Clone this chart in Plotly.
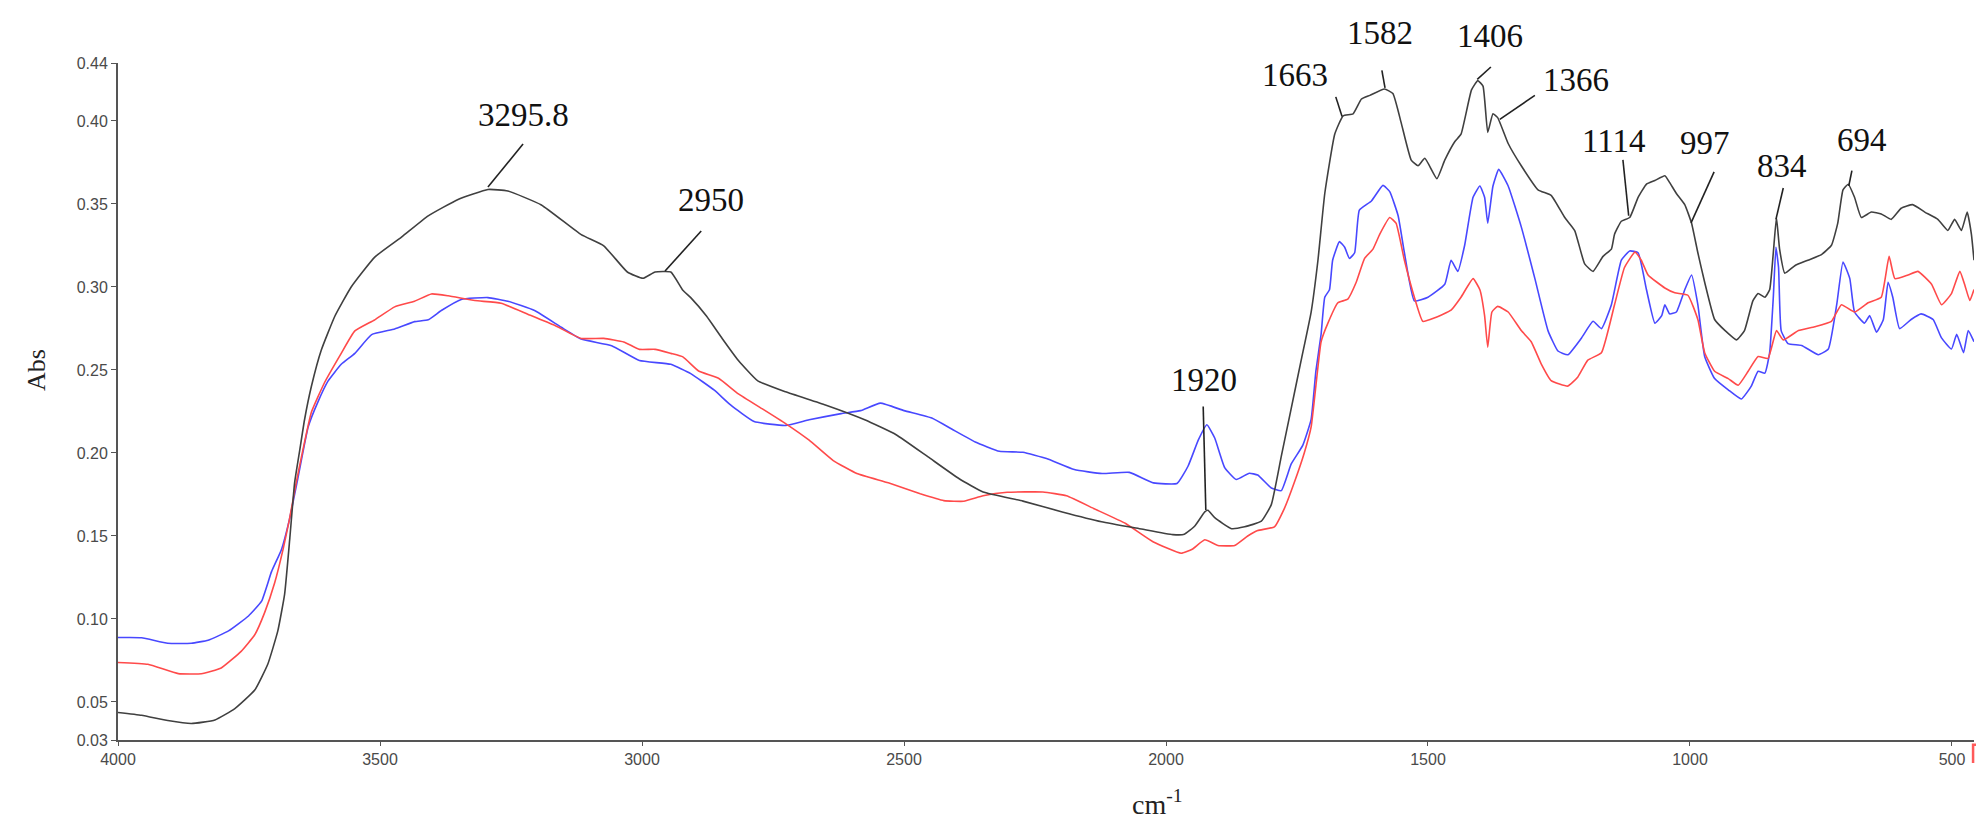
import plotly.graph_objects as go

# ---------------- data (wavenumber cm-1, absorbance) ----------------
black_wn = [4000, 3955, 3905, 3860, 3815, 3777, 3739, 3714, 3695, 3682, 3672, 3663, 3653, 3644,
            3631, 3612, 3586, 3555, 3510, 3459, 3408, 3351, 3294, 3256, 3192, 3116, 3073, 3028,
            2998, 2975, 2945, 2922, 2907, 2877, 2847, 2816, 2779, 2726, 2650, 2575, 2515, 2454,
            2394, 2349, 2273, 2198, 2123, 2047, 1987, 1965, 1945, 1926, 1920, 1907, 1875, 1850,
            1818, 1799, 1780, 1761, 1742, 1723, 1710, 1697, 1678, 1662, 1643, 1627, 1611, 1583,
            1567, 1551, 1532, 1519, 1506, 1483, 1468, 1449, 1437, 1417, 1405, 1395, 1386, 1376,
            1367, 1347, 1322, 1290, 1265, 1239, 1220, 1201, 1185, 1166, 1150, 1144, 1131, 1115,
            1099, 1083, 1067, 1048, 1039, 1026, 1010, 997, 985, 972, 953, 933, 911, 896, 880,
            870, 857, 848, 841, 835, 829, 819, 800, 775, 749, 730, 718, 708, 698, 686, 673, 654,
            635, 616, 597, 575, 552, 527, 508, 495, 482, 471, 463, 458]
black_abs = [0.0437, 0.042, 0.0388, 0.037, 0.0392, 0.046, 0.0572, 0.0729, 0.0928, 0.115, 0.149, 0.182,
             0.202, 0.220, 0.240, 0.262, 0.2825, 0.300, 0.318, 0.330, 0.3428, 0.3527, 0.3587, 0.3578,
             0.3494, 0.3315, 0.3248, 0.309, 0.3052, 0.309, 0.309, 0.298, 0.2936, 0.2825, 0.269,
             0.2557, 0.2434, 0.2368, 0.2289, 0.220, 0.211, 0.1976, 0.1843, 0.1765, 0.171, 0.1645,
             0.1586, 0.1542, 0.1508, 0.151, 0.156, 0.1645, 0.1655, 0.161, 0.1544, 0.1555, 0.1589,
             0.1689, 0.1979, 0.2269, 0.2559, 0.2849, 0.3161, 0.3563, 0.392, 0.4031, 0.4043, 0.4132,
             0.4154, 0.4192, 0.4165, 0.3987, 0.3764, 0.373, 0.3775, 0.3652, 0.3764, 0.3875, 0.392,
             0.4187, 0.4243, 0.421, 0.3931, 0.4043, 0.402, 0.3864, 0.373, 0.3585, 0.3552, 0.3418,
             0.334, 0.3139, 0.3094, 0.3184, 0.3228, 0.3318, 0.3396, 0.3418, 0.354, 0.3619, 0.3641,
             0.367, 0.363, 0.3563, 0.3496, 0.3384, 0.3206, 0.3028, 0.2804, 0.2737, 0.2681, 0.2737,
             0.2916, 0.296, 0.2938, 0.2983, 0.3206, 0.3418, 0.3228, 0.3083, 0.3128, 0.3161, 0.3195,
             0.3251, 0.3384, 0.3585, 0.3619, 0.354, 0.3418, 0.3451, 0.344, 0.3407, 0.3474, 0.3496,
             0.3451, 0.3407, 0.334, 0.3407, 0.334, 0.3451, 0.3318, 0.3161]

red_wn = [4000, 3943, 3885, 3841, 3803, 3765, 3739, 3720, 3701, 3685, 3673, 3660, 3647, 3631, 3606,
          3574, 3548, 3510, 3472, 3434, 3402, 3370, 3319, 3269, 3218, 3167, 3116, 3073, 3035, 3005,
          2975, 2945, 2922, 2892, 2854, 2816, 2771, 2726, 2681, 2635, 2590, 2530, 2469, 2424, 2386,
          2349, 2303, 2235, 2190, 2137, 2077, 2024, 1971, 1950, 1926, 1901, 1869, 1844, 1825, 1793,
          1774, 1755, 1736, 1723, 1714, 1704, 1691, 1672, 1653, 1637, 1621, 1605, 1592, 1573, 1561,
          1545, 1526, 1510, 1487, 1456, 1437, 1414, 1401, 1392, 1386, 1378, 1367, 1347, 1322, 1303,
          1284, 1265, 1233, 1214, 1195, 1169, 1144, 1125, 1105, 1093, 1080, 1048, 1029, 1004, 985,
          972, 953, 927, 908, 889, 870, 851, 835, 822, 793, 762, 730, 711, 686, 660, 635, 620, 609,
          584, 565, 539, 520, 501, 485, 475, 466, 458]
red_abs = [0.0738, 0.0727, 0.0671, 0.067, 0.0705, 0.0805, 0.0905, 0.104, 0.1218, 0.1419, 0.1597, 0.182,
           0.202, 0.2245, 0.2423, 0.260, 0.2735, 0.2802, 0.288, 0.2914, 0.2958, 0.2947, 0.2918, 0.2902,
           0.2836, 0.2769, 0.269, 0.269, 0.2669, 0.2624, 0.2624, 0.260, 0.2579, 0.2494, 0.245, 0.2356,
           0.2267, 0.2177, 0.2077, 0.1954, 0.1876, 0.182, 0.1754, 0.1713, 0.1709, 0.1742, 0.1763,
           0.1765, 0.1742, 0.1664, 0.1575, 0.1464, 0.1396, 0.1420, 0.1477, 0.1443, 0.1443, 0.150,
           0.1533, 0.1555, 0.1666, 0.1823, 0.2001, 0.2157, 0.2403, 0.267, 0.2782, 0.2905, 0.2927,
           0.3028, 0.3172, 0.3228, 0.3318, 0.3418, 0.3384, 0.3161, 0.2938, 0.2793, 0.2815, 0.286,
           0.2938, 0.305, 0.2983, 0.2827, 0.2637, 0.2849, 0.2883, 0.2849, 0.2737, 0.267, 0.2537,
           0.2436, 0.2403, 0.2458, 0.2559, 0.2604, 0.2893, 0.3117, 0.321, 0.3161, 0.3072, 0.2994,
           0.2965, 0.295, 0.2804, 0.2604, 0.2492, 0.2448, 0.2408, 0.2492, 0.2581, 0.257, 0.2737,
           0.2681, 0.2737, 0.276, 0.2793, 0.2893, 0.2849, 0.2905, 0.2938, 0.3184, 0.305, 0.3072,
           0.3094, 0.3016, 0.2893, 0.296, 0.3094, 0.3006, 0.2918, 0.2985]

blue_wn = [4000, 3955, 3905, 3860, 3828, 3789, 3751, 3726, 3707, 3688, 3673, 3657, 3637, 3618, 3599,
           3574, 3548, 3516, 3472, 3434, 3408, 3383, 3345, 3294, 3256, 3205, 3154, 3116, 3058, 3005,
           2945, 2907, 2862, 2831, 2786, 2726, 2681, 2620, 2583, 2545, 2500, 2447, 2409, 2364, 2318,
           2273, 2228, 2175, 2122, 2070, 2024, 1979, 1958, 1938, 1922, 1907, 1888, 1866, 1841, 1825,
           1799, 1780, 1761, 1739, 1723, 1714, 1704, 1697, 1688, 1682, 1669, 1659, 1650, 1640, 1631,
           1608, 1586, 1573, 1557, 1545, 1526, 1500, 1468, 1456, 1443, 1430, 1414, 1401, 1392, 1386,
           1376, 1365, 1347, 1322, 1296, 1271, 1252, 1233, 1207, 1185, 1169, 1150, 1131, 1115, 1099,
           1083, 1067, 1054, 1048, 1039, 1026, 1010, 997, 985, 972, 953, 927, 902, 883, 870, 857, 848,
           841, 836, 831, 826, 813, 787, 755, 736, 720, 708, 695, 686, 667, 657, 644, 631, 622, 613,
           600, 578, 559, 536, 520, 501, 491, 478, 469, 458]
blue_abs = [0.0888, 0.0887, 0.0854, 0.0854, 0.0872, 0.0928, 0.1018, 0.1107, 0.1285, 0.1419, 0.1597,
            0.1843, 0.2157, 0.2311, 0.2434, 0.2534, 0.260, 0.2713, 0.2747, 0.2791, 0.2802, 0.2858,
            0.2925, 0.2936, 0.2914, 0.2858, 0.2757, 0.2686, 0.2646, 0.2557, 0.2534, 0.2478, 0.2378,
            0.2289, 0.2189, 0.2166, 0.220, 0.2237, 0.2255, 0.230, 0.2255, 0.221, 0.2144, 0.2066, 0.201,
            0.2004, 0.1966, 0.190, 0.1876, 0.1883, 0.182, 0.1816, 0.192, 0.208, 0.217, 0.209, 0.1912,
            0.184, 0.1878, 0.1867, 0.1789, 0.1773, 0.1934, 0.2046, 0.2202, 0.2492, 0.2715, 0.2938,
            0.2983, 0.3161, 0.3273, 0.3239, 0.3172, 0.3206, 0.3463, 0.3518, 0.3612, 0.3574, 0.3429,
            0.3206, 0.2916, 0.2938, 0.3016, 0.3161, 0.3094, 0.3251, 0.354, 0.3608, 0.354, 0.3384,
            0.3608, 0.3708, 0.3608, 0.3362, 0.305, 0.2737, 0.2614, 0.2592, 0.2693, 0.2793, 0.2749,
            0.2893, 0.3161, 0.3217, 0.3206, 0.2983, 0.2782, 0.2827, 0.2893, 0.2838, 0.2849, 0.2983,
            0.3072, 0.2893, 0.2581, 0.2448, 0.238, 0.2325, 0.2403, 0.2492, 0.2481, 0.2604, 0.2938,
            0.3239, 0.3117, 0.2737, 0.2659, 0.2648, 0.2592, 0.2626, 0.2893, 0.315, 0.305, 0.2849,
            0.2782, 0.2827, 0.2727, 0.2804, 0.3028, 0.2938, 0.2749, 0.2804, 0.2838, 0.2804, 0.2693,
            0.2626, 0.2715, 0.2604, 0.2737, 0.267]

# peak labels: text, text position (wn, abs), leader start (wn, abs), leader end (wn, abs)
peak_labels = ["3295.8", "2950", "1920", "1663", "1582", "1406", "1366", "1114", "997", "834", "694"]
label_pos = [(3227, 0.4036), (2868, 0.3524), (1927, 0.244), (1754, 0.4277), (1592, 0.453),
             (1382, 0.4512), (1218, 0.4247), (1145, 0.388), (971, 0.3867), (824, 0.3729), (672, 0.3886)]
leader_from = [(3227, 0.3861), (2887, 0.3337), (1929, 0.228), (1676, 0.4145), (1588, 0.4304),
               (1380, 0.4325), (1296, 0.4154), (1128, 0.3765), (954, 0.3693), (822, 0.3596), (691, 0.3701)]
leader_to = [(3294, 0.3602), (2956, 0.3096), (1924, 0.1657), (1664, 0.4027), (1582, 0.4199),
             (1406, 0.425), (1363, 0.4009), (1117, 0.3429), (998, 0.3386), (836, 0.3407), (697, 0.3608)]

x_ticks = [4000, 3500, 3000, 2500, 2000, 1500, 1000, 500]
y_min, y_max = 0.0271, 0.4349
y_ticks = [y_min, 0.05, 0.10, 0.15, 0.20, 0.25, 0.30, 0.35, 0.40, y_max]
y_tick_text = ["0.03", "0.05", "0.10", "0.15", "0.20", "0.25", "0.30", "0.35", "0.40", "0.44"]


def to_paper_y(v):
    return (v - y_min) / (y_max - y_min)


# ---------------- figure ----------------
fig = go.Figure()
line_w = 1.6
common = dict(mode="lines")
fig.add_trace(go.Scatter(x=blue_wn, y=blue_abs, line=dict(color="#4848ff", width=line_w, shape="spline", smoothing=0.4), **common))
fig.add_trace(go.Scatter(x=red_wn, y=red_abs, line=dict(color="#ff4a4a", width=line_w, shape="spline", smoothing=0.4), **common))
fig.add_trace(go.Scatter(x=black_wn, y=black_abs, line=dict(color="#404040", width=line_w, shape="spline", smoothing=0.4), **common))

serif = "Liberation Serif, Times New Roman, serif"
for lab, (tx, ty), (fx0, fy0), (fx1, fy1) in zip(peak_labels, label_pos, leader_from, leader_to):
    fig.add_shape(type="line", xref="x", yref="y", x0=fx0, y0=fy0, x1=fx1, y1=fy1,
                  line=dict(color="#222222", width=1.6))
    fig.add_annotation(x=tx, y=to_paper_y(ty), xref="x", yref="paper", text=lab, showarrow=False,
                       font=dict(family=serif, size=33, color="#111111"),
                       xanchor="center", yanchor="middle")

# small red bracket mark at the right end under the axis (as in the original)
fig.add_shape(type="path", xref="paper", yref="paper",
              path="M 1.0012,-0.007 L 0.9995,-0.007 L 0.9995,-0.034",
              line=dict(color="#ff5a5a", width=2.5))

fig.add_annotation(x=0.5603, y=-0.093, xref="paper", yref="paper", text="cm<sup>-1</sup>",
                   showarrow=False, xanchor="center", yanchor="middle",
                   font=dict(family=serif, size=28, color="#222222"))
fig.add_annotation(x=-0.0442, y=0.5465, xref="paper", yref="paper", text="Abs", textangle=-90,
                   showarrow=False, xanchor="center", yanchor="middle",
                   font=dict(family=serif, size=26, color="#222222"))

tick_font = dict(family="Liberation Sans, Arial, sans-serif", size=16, color="#4a4a4a")
fig.update_layout(
    width=1984, height=816,
    margin=dict(l=110, r=18, t=55, b=84),
    paper_bgcolor="white", plot_bgcolor="white",
    showlegend=False,
    xaxis=dict(range=[4000, 458], tickvals=x_ticks, ticks="outside", ticklen=4, tickcolor="#555555",
               showline=True, linecolor="#555555", linewidth=2, showgrid=False, zeroline=False,
               tickfont=tick_font),
    yaxis=dict(range=[y_min, y_max], tickvals=y_ticks, ticktext=y_tick_text, ticks="outside", ticklen=5,
               tickcolor="#555555", showline=True, linecolor="#555555", linewidth=2, showgrid=False,
               zeroline=False, tickfont=tick_font),
)

fig.write_html("out.html")
